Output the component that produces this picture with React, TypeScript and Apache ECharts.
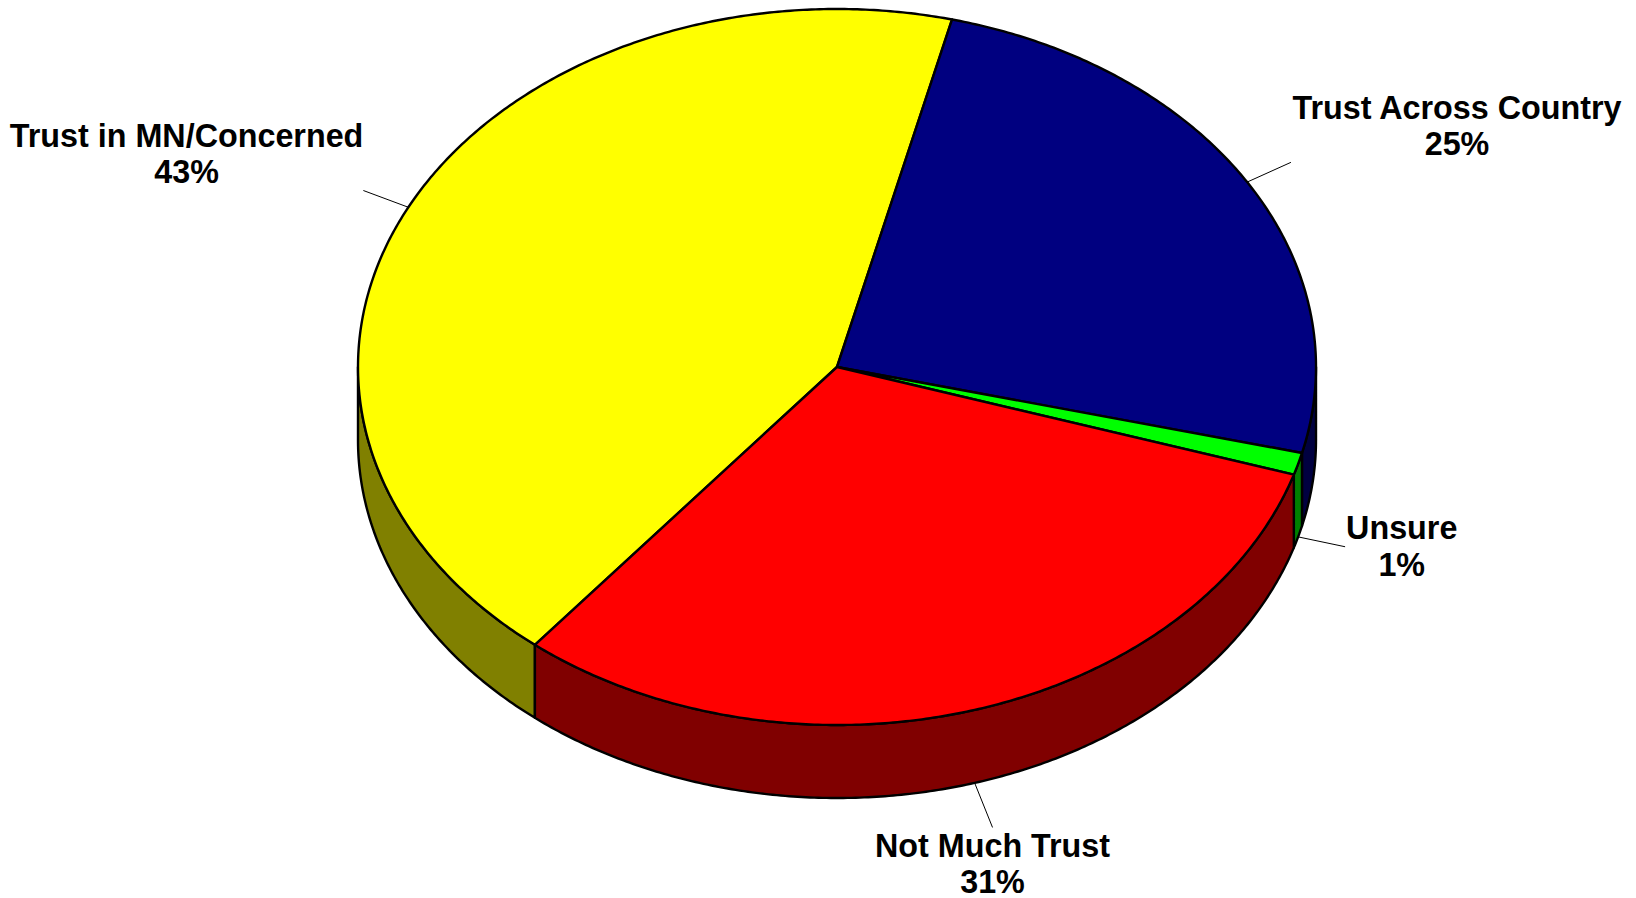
import React, { useEffect, useRef } from "react";
import * as echarts from "echarts";

// ---- data ----
const categories = ["Trust in MN/Concerned", "Trust Across Country", "Unsure", "Not Much Trust"];
const values = [43, 25, 1, 31];
const topColors = ["#FFFF00", "#000080", "#00FF00", "#FF0000"];
const sideColors = ["#808000", "#000040", "#008000", "#800000"];

// ---- geometry / style ----
const CX = 837;
const CY = 367;
const RX = 479;
const RY = 358;
const DEPTH = 73;
const START_DEG = 219.1; // clockwise from 12 o'clock
const LEADER = 48;
const FONT_SIZE = 32.3;
const LINE_H = 36.5;
const FONT_FAMILY = "Liberation Sans, Arial, Helvetica, sans-serif";
const EDGE_W = 2.4;

function pt(deg: number, dy = 0): number[] {
  const r = (deg * Math.PI) / 180;
  return [CX + RX * Math.sin(r), CY - RY * Math.cos(r) + dy];
}

function arc(a0: number, a1: number, dy = 0): number[][] {
  const pts: number[][] = [];
  const n = Math.max(2, Math.ceil(Math.abs(a1 - a0) / 0.5));
  for (let i = 0; i <= n; i++) pts.push(pt(a0 + ((a1 - a0) * i) / n, dy));
  return pts;
}

let measureCtx: CanvasRenderingContext2D | null = null;
function textWidth(s: string): number {
  if (!measureCtx) measureCtx = document.createElement("canvas").getContext("2d");
  if (!measureCtx) return s.length * FONT_SIZE * 0.55;
  measureCtx.font = `bold ${FONT_SIZE}px ${FONT_FAMILY}`;
  return measureCtx.measureText(s).width;
}

export default function App() {
  const ref = useRef<HTMLDivElement>(null);

  useEffect(() => {
    if (!ref.current) return;
    const chart = echarts.init(ref.current, undefined, { renderer: "svg" });
    const total = values.reduce((a, b) => a + b, 0);
    const starts: number[] = [];
    const ends: number[] = [];
    let acc = START_DEG;
    values.forEach((v) => {
      starts.push(acc);
      acc += (v / total) * 360;
      ends.push(acc);
    });

    const renderItem = (params: any, api: any) => {
      const i = params.dataIndex;
      const a0 = starts[i];
      const a1 = ends[i];
      const children: any[] = [];

      // front side walls (visible for angles in [90,270] mod 360)
      for (const off of [0, 360]) {
        const s = Math.max(a0, 90 + off);
        const e = Math.min(a1, 270 + off);
        if (e > s) {
          const top = arc(s, e, 0);
          const bot = arc(s, e, DEPTH).reverse();
          children.push({
            type: "polygon",
            shape: { points: top.concat(bot) },
            style: { fill: sideColors[i], stroke: "#000", lineWidth: EDGE_W, lineJoin: "round" },
          });
        }
      }

      // top face
      children.push({
        type: "polygon",
        shape: { points: [[CX, CY]].concat(arc(a0, a1, 0)) },
        style: { fill: topColors[i], stroke: "#000", lineWidth: EDGE_W, lineJoin: "round" },
      });

      // leader line + label
      const mid = (a0 + a1) / 2;
      const m = ((mid % 360) + 360) % 360;
      const front = m > 90 && m < 270;
      const p0 = pt(mid, front ? DEPTH : 0);
      const r = (mid * Math.PI) / 180;
      let ux = Math.sin(r) * RX;
      let uy = -Math.cos(r) * RY;
      const len = Math.hypot(ux, uy);
      ux /= len;
      uy /= len;
      const p1 = [p0[0] + ux * LEADER, p0[1] + uy * LEADER];
      children.push({
        type: "line",
        shape: { x1: p0[0], y1: p0[1], x2: p1[0], y2: p1[1] },
        style: { stroke: "#000", lineWidth: 1 },
      });

      const pct = Math.round((api.value(0) / total) * 100);
      const lines = [categories[i], `${pct}%`];
      const w = Math.max(...lines.map(textWidth));
      let tx = p1[0];
      if (ux > 0.5) tx = p1[0] + w / 2 + 1;
      else if (ux < -0.5) tx = p1[0] - w / 2;
      let va = "middle";
      if (uy < -0.3) va = "bottom";
      else if (uy > 0.5) va = "top";
      children.push({
        type: "text",
        x: tx,
        y: p1[1],
        style: {
          text: lines.join("\n"),
          fill: "#000",
          fontFamily: FONT_FAMILY,
          fontWeight: "bold",
          fontSize: FONT_SIZE,
          lineHeight: LINE_H,
          align: "center",
          verticalAlign: va,
        },
      });

      return { type: "group", children };
    };

    chart.setOption({
      animation: false,
      backgroundColor: "#ffffff",
      series: [
        {
          type: "custom",
          coordinateSystem: "none",
          renderItem,
          data: values.map((v, i) => ({ name: categories[i], value: [v] })),
        },
      ],
    });
    return () => chart.dispose();
  }, []);

  return (
    <div
      ref={ref}
      style={{ position: "fixed", left: 0, top: 0, width: 1636, height: 898, background: "#fff" }}
    />
  );
}
